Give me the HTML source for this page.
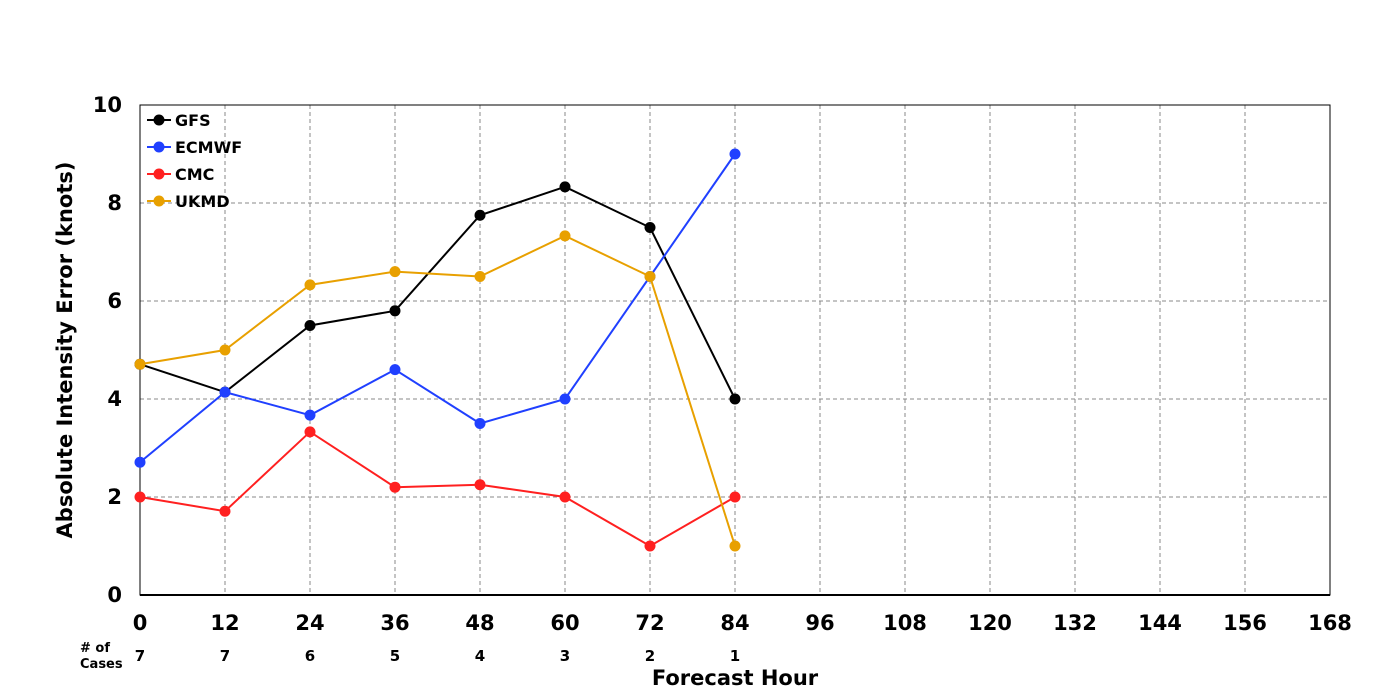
<!DOCTYPE html>
<html><head><meta charset="utf-8">
<style>
html,body{margin:0;padding:0;background:#fff;}
svg{display:block;font-family:"DejaVu Sans","Liberation Sans",sans-serif;font-weight:bold;}
</style></head>
<body>
<svg id="chart" width="1400" height="700" xmlns="http://www.w3.org/2000/svg"></svg>
<script>
const hours = [0,12,24,36,48,60,72,84];
const xTicks = [0,12,24,36,48,60,72,84,96,108,120,132,144,156,168];
const yTicks = [0,2,4,6,8,10];
const cases = [7,7,6,5,4,3,2,1];
const seriesNames = ["GFS","ECMWF","CMC","UKMD"];
const seriesColors = ["#000000","#2040ff","#ff2020","#e8a000"];
const gfs = [4.71,4.14,5.5,5.8,7.75,8.33,7.5,4.0];
const ecmwf = [2.71,4.14,3.67,4.6,3.5,4.0,6.5,9.0];
const cmc = [2.0,1.71,3.33,2.2,2.25,2.0,1.0,2.0];
const ukmd = [4.71,5.0,6.33,6.6,6.5,7.33,6.5,1.0];
const seriesValues = [gfs,ecmwf,cmc,ukmd];

const L=140,R=1330,T=105,B=595;
const xs = h => L + (h-0)/(168-0)*(R-L);
const ys = v => B - (v-0)/(10-0)*(B-T);
const svg = document.getElementById('chart');
const NS="http://www.w3.org/2000/svg";
function mk(tag, attrs, parent){const e=document.createElementNS(NS,tag);for(const k in attrs)e.setAttribute(k,attrs[k]);(parent||svg).appendChild(e);return e;}

// grid
yTicks.forEach(v=>{ if(v>0&&v<10){const g=mk('line',{x1:L,x2:R,y1:ys(v),y2:ys(v),stroke:'#888','stroke-dasharray':'4,3','stroke-width':1});

}});
xTicks.forEach(h=>{ if(h>0&&h<168){const g=mk('line',{x1:xs(h),x2:xs(h),y1:T,y2:B,stroke:'#888','stroke-dasharray':'4,3','stroke-width':1});

}});
// frame
const fr=mk('rect',{x:L,y:T,width:R-L,height:B-T,fill:'none',stroke:'#000','stroke-width':1});


const xa=mk('line',{x1:L,x2:R,y1:B,y2:B,stroke:'#000','stroke-width':2});



// tick labels
yTicks.forEach(v=>{const t=mk('text',{x:L-18,y:ys(v)+7,'text-anchor':'end','font-size':21});t.textContent=v;

});
xTicks.forEach(h=>{const t=mk('text',{x:xs(h),y:630,'text-anchor':'middle','font-size':21});t.textContent=h;

});
hours.forEach((h,i)=>{const t=mk('text',{x:xs(h),y:661,'text-anchor':'middle','font-size':15});t.textContent=cases[i];

});
const c1=mk('text',{x:80,y:652,'font-size':13});c1.textContent='# of';


const c2=mk('text',{x:80,y:668,'font-size':13});c2.textContent='Cases';



const xt=mk('text',{x:735,y:685,'text-anchor':'middle','font-size':21});xt.textContent='Forecast Hour';


const yt=mk('text',{x:0,y:0,'text-anchor':'middle','font-size':21,transform:'translate(72,350) rotate(-90)'});yt.textContent='Absolute Intensity Error (knots)';



// series
seriesValues.forEach((vals,si)=>{
  const g=mk('g',{});
  
  
  const pts=vals.map((v,i)=>xs(hours[i])+','+ys(v)).join(' ');
  const pl=mk('polyline',{points:pts,fill:'none',stroke:seriesColors[si],'stroke-width':2},g);
  
  
  vals.forEach((v,i)=>{const c=mk('circle',{cx:xs(hours[i]),cy:ys(v),r:5.5,fill:seriesColors[si]},g);
  
  });
});

// legend
seriesNames.forEach((n,i)=>{
  const y=120+i*27;
  const g=mk('g',{});
  
  
  mk('line',{x1:147,x2:171,y1:y,y2:y,stroke:seriesColors[i],'stroke-width':2},g);
  mk('circle',{cx:159,cy:y,r:5.5,fill:seriesColors[i]},g);
  const t=mk('text',{x:175,y:y+6,'font-size':16},g);t.textContent=n;
});
</script>
</body></html>
